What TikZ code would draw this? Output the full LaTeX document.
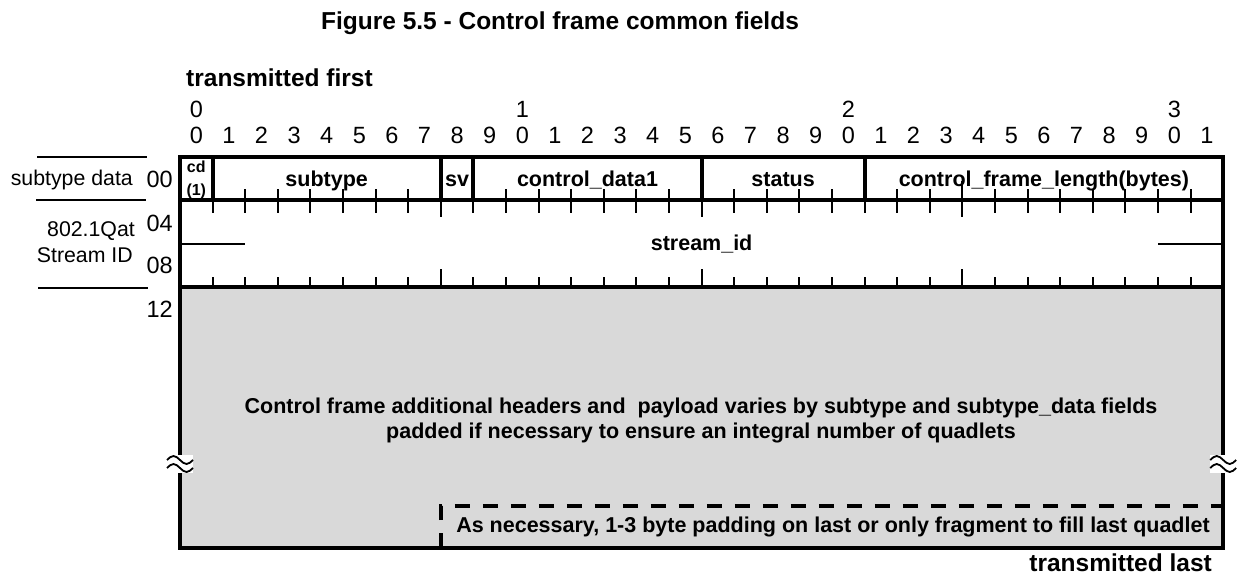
\documentclass[tikz,border=0pt]{standalone}
\usepackage{fontspec}
\setmainfont{Liberation Sans}
\definecolor{paygray}{RGB}{217,217,217}
\begin{document}
\begin{tikzpicture}[x=1pt,y=-1pt,line join=miter,
    frame/.style={line width=4pt},
    tick/.style={line width=2pt},
    padline/.style={line width=4pt,dash pattern=on 15pt off 13pt},
    bignum/.style={font=\fontsize{23.5}{26}\selectfont,inner sep=0pt,anchor=base},
    heading/.style={font=\fontsize{24.5}{28}\selectfont\bfseries,inner sep=0pt},
    fld/.style={font=\fontsize{21.5}{24}\selectfont\bfseries,inner sep=0pt,anchor=base},
    rowtxt/.style={font=\fontsize{21.3}{24}\selectfont,inner sep=0pt,anchor=base east},
    tiny/.style={font=\fontsize{16}{18}\selectfont\bfseries,inner sep=0pt,anchor=base}]
	\def\xl{180} \def\xr{1223.2} \def\bw{32.6}
	\useasboundingbox (0,0) rectangle (1239,577);
	% payload area and padding box
	\fill[paygray] (\xl,287) rectangle (\xr,548);
	\draw[padline] (\xl+8*\bw,548)--(\xl+8*\bw,506)--(\xr,506);
	% ticks
	\foreach \b in {1,...,31}
	{\draw[tick] (\xl+\b*\bw,200.5)--(\xl+\b*\bw,213);
		\draw[tick] (\xl+\b*\bw,287)--(\xl+\b*\bw,277);}
	\foreach \b in {8,16,24}
	{\draw[tick] (\xl+\b*\bw,200.5)--(\xl+\b*\bw,217);
		\draw[tick] (\xl+\b*\bw,287)--(\xl+\b*\bw,269);}
	\foreach \b in {2,...,7,10,11,...,15,17,18,19,20,22,23,25,26,...,31}
	\draw[tick] (\xl+\b*\bw,200.5)--(\xl+\b*\bw,189);
	\draw[tick] (\xl+24*\bw,200.5)--(\xl+24*\bw,181);
	\draw[tick] (\xl,244)--(\xl+2*\bw,244) (\xl+30*\bw,244)--(\xr,244);
	% frame and fields
	\draw[frame] (\xl,157) rectangle (\xr,548);
	\draw[frame] (\xl,200.5)--(\xr,200.5) (\xl,287)--(\xr,287);
	\foreach \b in {1,8,9,16,21}
	\draw[frame] (\xl+\b*\bw,157)--(\xl+\b*\bw,200.5);
	% break marks
	\foreach \x in {\xl,\xr}
	{\fill[white] (\x-13,455) rectangle (\x+13,473);
		\foreach \y in {460,468}
		\draw[line width=1.8pt] (\x-13,\y) sin (\x-6.5,\y-4) cos (\x,\y) sin (\x+6.5,\y+4) cos (\x+13,\y);}
	% row labels
	\draw[tick] (37,157)--(147,157) (36,200.5)--(146,200.5) (38,288)--(148,288);
	\node[rowtxt] (sdata) at (133,186) {subtype data};
	\node[rowtxt] (qat) at (135,237) {802.1Qat};
	\node[rowtxt] (sid) at (133,263) {Stream ID};
	\node[bignum,anchor=base east] (r00) at (173,188) {00};
	\node[bignum,anchor=base east] (r04) at (173,232) {04};
	\node[bignum,anchor=base east] (r08) at (173,274) {08};
	\node[bignum,anchor=base east] (r12) at (173,317) {12};
	% bit numbers
	\foreach \b in {0,...,31}
	{\pgfmathtruncatemacro\d{mod(\b,10)}
		\node[bignum] (lo\b) at (\xl+\b*\bw+\bw/2,144) {\d};}
	\foreach \b/\t in {0/0,10/1,20/2,30/3}
	\node[bignum] (hi\b) at (\xl+\b*\bw+\bw/2,118) {\t};
	% headings
	\node[heading,anchor=base] (title) at (560,30) {Figure 5.5 - Control frame common fields};
	\node[heading,anchor=base west] (tfirst) at (186,87) {transmitted first};
	\node[heading,anchor=base east] (tlast) at (1212,571) {transmitted last};
	% fields
	\node[tiny] (fcd) at (\xl+\bw/2,173) {cd};
	\node[tiny] (fcdn) at (\xl+\bw/2,196) {(1)};
	\node[fld] (fsub) at (\xl+4.5*\bw,187) {subtype};
	\node[fld] (fsv) at (\xl+8.5*\bw,187) {sv};
	\node[fld] (fdata) at (\xl+12.5*\bw,187) {control\_data1};
	\node[fld] (fstat) at (\xl+18.5*\bw,187) {status};
	\node[fld] (flen) at (\xl+26.5*\bw,187) {control\_frame\_length(bytes)};
	\node[fld] (fsid) at (\xl+16*\bw,251) {stream\_id};
	\node[fld] (body) at (701,413) {Control frame additional headers and\ \ payload varies by subtype and subtype\_data fields};
	\node[fld] (bodyb) at (701,438) {padded if necessary to ensure an integral number of quadlets};
	\node[fld] (fpad) at (833,532) {As necessary, 1-3 byte padding on last or only fragment to fill last quadlet};
\end{tikzpicture}
\end{document}
